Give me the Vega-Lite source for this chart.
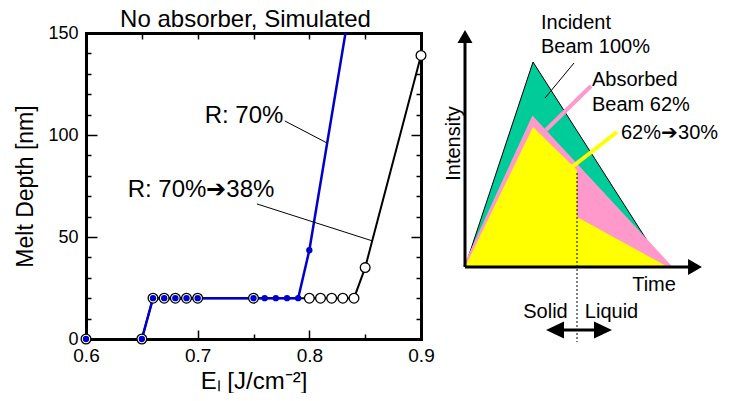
{
  "$schema": "https://vega.github.io/schema/vega-lite/v6.json",
  "background": "white",
  "padding": {"left": 14, "top": 8, "right": 0, "bottom": 0},
  "spacing": 0,
  "config": {"font": "Liberation Sans", "view": {"stroke": null}},
  "hconcat": [
    {
      "width": 335,
      "height": 306,
      "title": {"text": "No absorber, Simulated", "fontSize": 24, "fontWeight": "normal", "color": "black", "dx": -8, "offset": -8},
      "data": {"values": [
        {"s": "blue", "E": 0.6, "D": 0}, {"s": "blue", "E": 0.65, "D": 0}, {"s": "blue", "E": 0.66, "D": 20},
        {"s": "blue", "E": 0.67, "D": 20}, {"s": "blue", "E": 0.68, "D": 20}, {"s": "blue", "E": 0.69, "D": 20},
        {"s": "blue", "E": 0.70, "D": 20}, {"s": "blue", "E": 0.75, "D": 20}, {"s": "blue", "E": 0.76, "D": 20},
        {"s": "blue", "E": 0.77, "D": 20}, {"s": "blue", "E": 0.78, "D": 20}, {"s": "blue", "E": 0.79, "D": 20},
        {"s": "blue", "E": 0.80, "D": 43.5}, {"s": "blue", "E": 0.85, "D": 208},
        {"s": "black", "E": 0.6, "D": 0}, {"s": "black", "E": 0.65, "D": 0}, {"s": "black", "E": 0.66, "D": 20},
        {"s": "black", "E": 0.67, "D": 20}, {"s": "black", "E": 0.68, "D": 20}, {"s": "black", "E": 0.69, "D": 20},
        {"s": "black", "E": 0.70, "D": 20}, {"s": "black", "E": 0.75, "D": 20}, {"s": "black", "E": 0.80, "D": 20},
        {"s": "black", "E": 0.81, "D": 20}, {"s": "black", "E": 0.82, "D": 20}, {"s": "black", "E": 0.83, "D": 20},
        {"s": "black", "E": 0.84, "D": 20}, {"s": "black", "E": 0.85, "D": 35}, {"s": "black", "E": 0.90, "D": 139}
      ]},
      "resolve": {"axis": {"x": "independent", "y": "independent"}},
      "layer": [
        {
          "transform": [{"filter": "datum.s === 'black'"}],
          "mark": {"type": "line", "color": "black", "strokeWidth": 2},
          "encoding": {
            "x": {"field": "E", "type": "quantitative", "scale": {"domain": [0.6, 0.9], "nice": false, "zero": false},
              "axis": {"orient": "bottom", "values": [0.6, 0.65, 0.7, 0.75, 0.8, 0.85, 0.9], "format": ".2~f",
                "labelExpr": "length(datum.label) <= 3 ? datum.label : ''",
                "labelFontSize": 19, "labelColor": "black", "labelPadding": 16, "labelFlush": false, "labelOverlap": false,
                "tickSize": {"condition": {"test": "round(datum.value * 100) % 10 === 0", "value": -9}, "value": -5},
                "tickColor": "black", "tickWidth": 1.5,
                "domainColor": "black", "domainWidth": 3, "domainCap": "square", "grid": false,
                "title": "Eₗ [J/cm⁻²]", "titleFontSize": 24, "titleFontWeight": "normal", "titleColor": "black", "titlePadding": 0}},
            "y": {"field": "D", "type": "quantitative", "scale": {"domain": [0, 150], "nice": false},
              "axis": {"orient": "left", "values": [0, 10, 20, 30, 40, 50, 60, 70, 80, 90, 100, 110, 120, 130, 140, 150],
                "labelExpr": "datum.value % 50 === 0 ? datum.label : ''",
                "labelFontSize": 18, "labelColor": "black", "labelPadding": 19, "labelFlush": false, "labelOverlap": false,
                "tickSize": {"condition": {"test": "datum.value % 50 === 0", "value": -11}, "value": -5},
                "tickColor": "black", "tickWidth": 1.5,
                "domainColor": "black", "domainWidth": 3, "domainCap": "square", "grid": false,
                "title": "Melt Depth [nm]", "titleFontSize": 23, "titleFontWeight": "normal", "titleColor": "black", "titlePadding": 10}}
          }
        },
        {
          "transform": [{"filter": "datum.s === 'blue' && datum.E >= 0.65"}],
          "mark": {"type": "line", "color": "#0000cc", "strokeWidth": 2.5, "clip": true},
          "encoding": {
            "x": {"field": "E", "type": "quantitative",
              "axis": {"orient": "top", "values": [0.6, 0.65, 0.7, 0.75, 0.8, 0.85, 0.9], "labels": false,
                "tickSize": -6, "tickColor": "black", "tickWidth": 1.5,
                "domainColor": "black", "domainWidth": 3, "domainCap": "square", "grid": false, "title": null}},
            "y": {"field": "D", "type": "quantitative",
              "axis": {"orient": "right", "values": [0, 10, 20, 30, 40, 50, 60, 70, 80, 90, 100, 110, 120, 130, 140, 150], "labels": false,
                "tickSize": {"condition": {"test": "datum.value % 50 === 0", "value": -10}, "value": -5},
                "tickColor": "black", "tickWidth": 1.5,
                "domainColor": "black", "domainWidth": 3, "domainCap": "square", "grid": false, "title": null}}
          }
        },
        {
          "transform": [{"filter": "datum.s === 'black'"}],
          "mark": {"type": "point", "shape": "circle", "filled": true, "fill": "white", "stroke": "black", "strokeWidth": 1.3, "size": 95, "opacity": 1},
          "encoding": {
            "x": {"field": "E", "type": "quantitative", "axis": null},
            "y": {"field": "D", "type": "quantitative", "axis": null}
          }
        },
        {
          "transform": [{"filter": "datum.s === 'blue' && datum.D <= 150"}],
          "mark": {"type": "point", "shape": "circle", "filled": true, "color": "#0000cc", "size": 40, "opacity": 1},
          "encoding": {
            "x": {"field": "E", "type": "quantitative", "axis": null},
            "y": {"field": "D", "type": "quantitative", "axis": null}
          }
        },
        {
          "data": {"values": [
            {"E": 0.778, "D": 106.9, "E2": 0.8158, "D2": 96.1},
            {"E": 0.7531, "D": 66.2, "E2": 0.857, "D2": 48.0}
          ]},
          "mark": {"type": "rule", "color": "black", "strokeWidth": 1},
          "encoding": {
            "x": {"field": "E", "type": "quantitative", "axis": null},
            "y": {"field": "D", "type": "quantitative", "axis": null},
            "x2": {"field": "E2"},
            "y2": {"field": "D2"}
          }
        },
        {
          "data": {"values": [
            {"E": 0.7415, "D": 109.3, "label": "R: 70%"},
            {"E": 0.703, "D": 73.0, "label": "R: 70%➔38%"}
          ]},
          "mark": {"type": "text", "fontSize": 24, "color": "black", "align": "center", "baseline": "middle"},
          "encoding": {
            "x": {"field": "E", "type": "quantitative", "axis": null},
            "y": {"field": "D", "type": "quantitative", "axis": null},
            "text": {"field": "label"}
          }
        }
      ]
    },
    {
      "width": 300,
      "height": 330,
      "encoding": {
        "x": {"field": "t", "type": "quantitative", "scale": {"domain": [-3, 27], "nice": false, "zero": false}, "axis": null},
        "y": {"field": "I", "type": "quantitative", "stack": null, "scale": {"domain": [-9.6, 23.4], "nice": false, "zero": false}, "axis": null}
      },
      "layer": [
        {
          "data": {"values": [{"t": 0, "I": 0}, {"t": 6.8, "I": 20.5}, {"t": 19.9, "I": 0}]},
          "mark": {"type": "area", "orient": "vertical", "color": "#00cc99", "opacity": 1, "line": {"color": "black", "strokeWidth": 1}}
        },
        {
          "data": {"values": [{"t": 0, "I": 0}, {"t": 6.8, "I": 14.8}, {"t": 20.5, "I": 0}]},
          "mark": {"type": "area", "orient": "vertical", "color": "#ff99cc", "opacity": 1, "line": {"color": "#ff99cc", "strokeWidth": 4}}
        },
        {
          "data": {"values": [{"t": 0, "I": 0}, {"t": 6.8, "I": 14.0}, {"t": 11.2, "I": 9.7}, {"t": 11.2, "I": 5.0}, {"t": 20.3, "I": 0}]},
          "mark": {"type": "area", "orient": "vertical", "color": "#ffff00", "opacity": 1}
        },
        {
          "data": {"values": [{"t": 11.2, "I": 9.4, "t2": 11.2, "I2": -7.5}]},
          "mark": {"type": "rule", "color": "black", "strokeWidth": 1, "strokeDash": [2, 2]},
          "encoding": {"x2": {"field": "t2"}, "y2": {"field": "I2"}}
        },
        {
          "data": {"values": [
            {"t": 0, "I": 0, "t2": 0, "I2": 22.5},
            {"t": 0, "I": 0, "t2": 22.5, "I2": 0},
            {"t": 9.0, "I": -6.3, "t2": 13.8, "I2": -6.3}
          ]},
          "mark": {"type": "rule", "color": "black", "strokeWidth": 3},
          "encoding": {"x2": {"field": "t2"}, "y2": {"field": "I2"}}
        },
        {
          "data": {"values": [{"t": 10.9, "I": 20.4, "t2": 8.0, "I2": 16.9}]},
          "mark": {"type": "rule", "color": "black", "strokeWidth": 1},
          "encoding": {"x2": {"field": "t2"}, "y2": {"field": "I2"}}
        },
        {
          "data": {"values": [{"t": 12.6, "I": 18.1, "t2": 8.1, "I2": 13.7}]},
          "mark": {"type": "rule", "color": "#ff99cc", "strokeWidth": 4},
          "encoding": {"x2": {"field": "t2"}, "y2": {"field": "I2"}}
        },
        {
          "data": {"values": [{"t": 15.2, "I": 13.5, "t2": 10.7, "I2": 10.0}]},
          "mark": {"type": "rule", "color": "#ffff00", "strokeWidth": 4},
          "encoding": {"x2": {"field": "t2"}, "y2": {"field": "I2"}}
        },
        {
          "data": {"values": [{"t": 0, "I": 23.05}]},
          "mark": {"type": "point", "shape": "triangle-up", "size": 225, "filled": true, "color": "black", "opacity": 1}
        },
        {
          "data": {"values": [{"t": 23.0, "I": 0}]},
          "mark": {"type": "point", "shape": "triangle-right", "size": 256, "filled": true, "color": "black", "opacity": 1}
        },
        {
          "data": {"values": [{"t": 9.0, "I": -6.3}]},
          "mark": {"type": "point", "shape": "M-1,0L1,-0.95L1,0.95Z", "size": 324, "filled": true, "color": "black", "opacity": 1}
        },
        {
          "data": {"values": [{"t": 13.8, "I": -6.3}]},
          "mark": {"type": "point", "shape": "M1,0L-1,-0.95L-1,0.95Z", "size": 324, "filled": true, "color": "black", "opacity": 1}
        },
        {
          "data": {"values": [
            {"t": 7.6, "I": 24.4, "label": "Incident"},
            {"t": 7.6, "I": 22.0, "label": "Beam 100%"},
            {"t": 12.7, "I": 18.7, "label": "Absorbed"},
            {"t": 12.7, "I": 16.2, "label": "Beam 62%"},
            {"t": 15.6, "I": 13.4, "label": "62%➔30%"}
          ]},
          "mark": {"type": "text", "fontSize": 20, "color": "black", "align": "left", "baseline": "middle"},
          "encoding": {"text": {"field": "label"}}
        },
        {
          "data": {"values": [
            {"t": 18.9, "I": -1.8, "label": "Time"},
            {"t": 8.05, "I": -4.5, "label": "Solid"},
            {"t": 14.65, "I": -4.5, "label": "Liquid"}
          ]},
          "mark": {"type": "text", "fontSize": 20, "color": "black", "align": "center", "baseline": "middle"},
          "encoding": {"text": {"field": "label"}}
        },
        {
          "data": {"values": [{"t": -1.1, "I": 12.35, "label": "Intensity"}]},
          "mark": {"type": "text", "fontSize": 20, "color": "black", "align": "center", "baseline": "middle", "angle": 270},
          "encoding": {"text": {"field": "label"}}
        }
      ]
    }
  ]
}
